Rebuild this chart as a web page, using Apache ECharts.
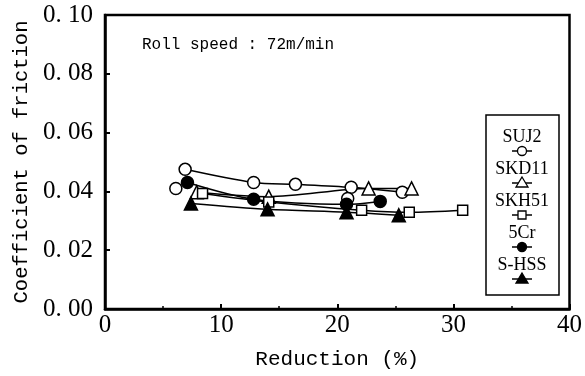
<!DOCTYPE html>
<html><head><meta charset="utf-8">
<script src="https://cdn.jsdelivr.net/npm/echarts@6/dist/echarts.min.js"></script>
<style>html,body{margin:0;padding:0;background:#fff}#c{width:585px;height:376px}</style>
</head><body><div id="c"></div>
<script>
// ---- data ----
const seriesNames = ['SUJ2', 'SKD11', 'SKH51', '5Cr', 'S-HSS'];
const suj2 = [[6.9, 0.0475], [12.8, 0.0430], [16.4, 0.0424], [21.2, 0.0414], [25.6, 0.0397]];
const suj2Extra = [[6.1, 0.0410], [20.9, 0.0376]];
const skd11 = [[7.9, 0.0397], [14.1, 0.0382], [22.7, 0.0410], [26.4, 0.0410]];
const skh51 = [[8.4, 0.0393], [14.1, 0.0364], [22.1, 0.0336], [26.2, 0.0329], [30.8, 0.0336]];
const cr5 = [[7.1, 0.0430], [12.8, 0.0373], [20.8, 0.0356], [23.7, 0.0366]];
const shss = [[7.4, 0.0359], [14.0, 0.0339], [20.8, 0.0329], [25.3, 0.0319]];
const yTickValues = [0, 0.02, 0.04, 0.06, 0.08, 0.10];
const yTickLabels = ['0. 00', '0. 02', '0. 04', '0. 06', '0. 08', '0. 10'];
const xTickLabels = ['0', '10', '20', '30', '40'];
const titleText = 'Roll speed : 72m/min';
const xName = 'Reduction (%)';
const yName = 'Coefficient of friction';

// ---- styles ----
const K = '#000';
const TRI = 'path://M0,-10L8.66,5L-8.66,5Z';
const lineStyle = {color: K, width: 1.5};
function mk(name, data, symbol, size, fill, showLine) {
  return {
    name: name, type: 'line', data: data, smooth: 0.3,
    symbol: symbol, symbolSize: size, showSymbol: true,
    lineStyle: showLine ? lineStyle : {width: 0, opacity: 0},
    itemStyle: {color: fill, borderColor: K, borderWidth: 1.5},
    emphasis: {disabled: true}, animation: false
  };
}
const series = [
  mk('SUJ2', suj2, 'circle', 12, '#fff', true),
  mk('SUJ2b', suj2Extra, 'circle', 12, '#fff', false),
  mk('SKD11', skd11, TRI, 13, '#fff', true),
  mk('SKH51', skh51, 'rect', 10, '#fff', true),
  mk('5Cr', cr5, 'circle', 12, K, true),
  mk('S-HSS', shss, TRI, 13, K, true)
];

// legend drawn as graphic
const legX = 522, legY0 = 137, legDy = 32;
const legG = [{type: 'rect', shape: {x: 486, y: 115, width: 73, height: 180},
  style: {fill: '#fff', stroke: K, lineWidth: 1.5}, z: 10}];
const legSym = ['oc', 'ot', 'os', 'fc', 'ft'];
seriesNames.forEach((n, i) => {
  const ty = legY0 + i * legDy, my = ty + 14;
  legG.push({type: 'text', x: legX, y: ty, z: 11, style: {text: n, font: '18px "Liberation Serif"', fill: K, textAlign: 'center', textVerticalAlign: 'middle'}});
  legG.push({type: 'line', z: 11, shape: {x1: legX - 10, y1: my, x2: legX + 10, y2: my}, style: {stroke: K, lineWidth: 1.5}});
  const s = legSym[i], fill = s[0] === 'f' ? K : '#fff';
  if (s[1] === 'c') legG.push({type: 'circle', z: 12, shape: {cx: legX, cy: my, r: 4.5}, style: {fill: fill, stroke: K, lineWidth: 1.3}});
  if (s[1] === 's') legG.push({type: 'rect', z: 12, shape: {x: legX - 4, y: my - 4, width: 8, height: 8}, style: {fill: fill, stroke: K, lineWidth: 1.3}});
  if (s[1] === 't') legG.push({type: 'polygon', z: 12, shape: {points: [[legX, my - 6], [legX + 6, my + 4], [legX - 6, my + 4]]}, style: {fill: fill, stroke: K, lineWidth: 1.3}});
});
legG.push({type: 'text', x: 142, y: 45, style: {text: titleText, font: '16px "Liberation Mono"', fill: K, textVerticalAlign: 'middle'}});

const labelFont = {fontFamily: 'Liberation Serif', fontSize: 25, color: K};
const option = {
  backgroundColor: '#fff',
  animation: false,
  grid: {left: 105, right: 13, top: 15, bottom: 67, show: true, borderColor: K, borderWidth: 2.5},
  xAxis: {
    type: 'value', min: 0, max: 40, interval: 10,
    name: xName, nameLocation: 'middle', nameGap: 40,
    nameTextStyle: {fontFamily: 'Liberation Mono', fontSize: 21, color: K},
    axisLine: {lineStyle: {color: K, width: 2.5}},
    axisTick: {inside: true, length: 5, lineStyle: {color: K, width: 2}},
    minorTick: {show: true, splitNumber: 2, length: 3, lineStyle: {color: K, width: 1.5}},
    splitLine: {show: false},
    axisLabel: Object.assign({margin: 4, formatter: (v) => xTickLabels[Math.round(v / 10)]}, labelFont)
  },
  yAxis: {
    type: 'value', min: 0, max: 0.1, interval: 0.02,
    name: yName, nameLocation: 'middle', nameGap: 73,
    nameTextStyle: {fontFamily: 'Liberation Mono', fontSize: 20.5, color: K},
    axisLine: {lineStyle: {color: K, width: 2.5}},
    axisTick: {inside: true, length: 5, lineStyle: {color: K, width: 2}},
    splitLine: {show: false},
    axisLabel: Object.assign({margin: 12, formatter: (v) => {
      const i = yTickValues.findIndex(t => Math.abs(t - v) < 1e-6);
      return i >= 0 ? yTickLabels[i] : '';
    }}, labelFont)
  },
  graphic: legG,
  series: series
};
const chart = echarts.init(document.getElementById('c'), null, {renderer: 'canvas'});
chart.setOption(option);
</script></body></html>
